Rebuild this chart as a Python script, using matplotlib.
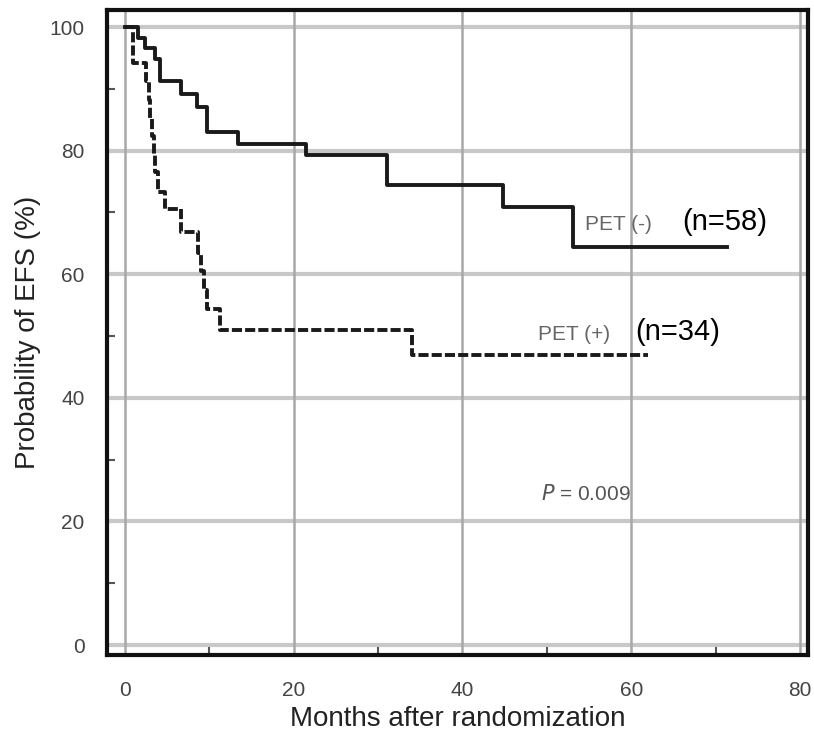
import numpy as np
import matplotlib
matplotlib.use("Agg")
import matplotlib.pyplot as plt

plt.rcParams['font.family'] = ['Liberation Sans', 'DejaVu Sans']

# PET (-) curve, step after each time
neg_months = [0, 1.5, 2.4, 3.6, 4.1, 6.7, 8.5, 9.7, 13.4, 21.4, 31.0, 44.8, 53.1, 71.4]
neg_surv = [100, 98.3, 96.6, 94.8, 91.2, 89.1, 87.0, 83.0, 81.0, 79.3, 74.4, 70.9, 64.4, 64.4]

# PET (+) curve
pos_months = [0, 1.0, 2.5, 2.8, 3.0, 3.2, 3.4, 3.6, 3.9, 4.7, 6.7, 8.7, 9.0, 9.4, 9.7, 11.3, 34.0, 62.0]
pos_surv = [100, 94.1, 91.2, 88.2, 85.3, 82.4, 79.4, 76.5, 73.3, 70.5, 66.8, 63.5, 60.5, 57.5, 54.3, 51.0, 47.0, 47.0]

x_ticks = [0, 20, 40, 60, 80]
y_ticks = [0, 20, 40, 60, 80, 100]

fig = plt.figure(figsize=(8.14, 7.36), dpi=100)
ax = fig.add_axes([0.1314, 0.110, 0.8612, 0.8764])

for y in y_ticks:
    ax.axhline(y, color="#c8c8c8", lw=3, zorder=1)
for x in x_ticks:
    ax.axvline(x, color="#a8a8a8", lw=1.8, zorder=1)

ax.step(neg_months, neg_surv, where="post", color="#1a1a1a", lw=2.8, zorder=3)
ax.step(pos_months, pos_surv, where="post", color="#1a1a1a", lw=2.8,
        linestyle=(0, (2.6, 0.8)), zorder=3)

ax.set_xlim(-2.13, 80.95)
ax.set_ylim(-1.62, 102.75)
ax.set_xticks(x_ticks)
ax.set_yticks(y_ticks)
ax.set_xticks([10, 30, 50, 70], minor=True)
ax.set_yticks([10, 30, 50, 70, 90], minor=True)
ax.tick_params(which="both", direction="in", color="#555555")
ax.tick_params(which="major", length=0, labelsize=15, labelcolor="#444444")
ax.tick_params(axis="x", which="major", pad=19)
ax.tick_params(axis="y", which="major", pad=16)
ax.tick_params(which="minor", length=6, width=1.5)

for s in ax.spines.values():
    s.set_linewidth(3)
    s.set_color("#111111")

ax.set_xlabel("Months after randomization", fontsize=20, color="#222222", labelpad=4)
ax.set_ylabel("Probability of EFS (%)", fontsize=20, color="#222222", labelpad=6)

ax.text(54.5, 68.0, "PET (-)", fontsize=15, color="#666666", va="center")
ax.text(66.0, 68.4, "(n=58)", fontsize=21, color="black", va="center")
ax.text(49.0, 50.2, "PET (+)", fontsize=15, color="#666666", va="center")
ax.text(60.5, 50.6, "(n=34)", fontsize=21, color="black", va="center")
ax.text(49.3, 24.5, "$\\it{P}$ = 0.009", fontsize=15, color="#555555", va="center")

fig.savefig("out.png", dpi=100)
